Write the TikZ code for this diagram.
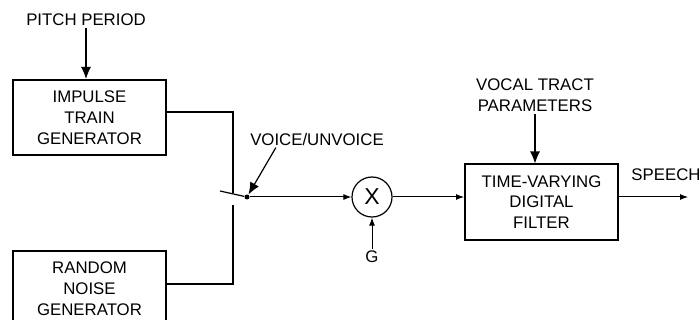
\documentclass[tikz,border=0pt]{standalone}
\usepackage{fontspec}
\setmainfont{Liberation Sans}
\usepackage{tikz}
\usetikzlibrary{arrows.meta,positioning,calc}

\begin{document}
\begin{tikzpicture}[
    every node/.style={font=\fontsize{8.4}{10.4}\selectfont},
    block/.style={rectangle, draw, line width=1pt, minimum width=76.5pt,
        minimum height=37.5pt, align=center, inner sep=1pt},
    mixer/.style={circle, draw, line width=0.6pt, minimum size=20pt, inner sep=0pt,
        font=\fontsize{11.5}{11.5}\selectfont},
    tag/.style={align=center, inner sep=1pt},
    wire/.style={line width=0.6pt},
    arrow/.style={-{Latex[length=4pt,width=3pt]}, line width=0.5pt},
    bigarrow/.style={-{Latex[length=6pt,width=5pt]}, line width=0.6pt},
    x=0.5pt, y=-0.5pt,
    ]
    \clip (0,0) rectangle (700,320);
    % Sources
    \node[block] (imp)   at (89.5,117.5) {IMPULSE\\TRAIN\\GENERATOR};
    \node[block] (noise) at (89.5,288.5) {RANDOM\\NOISE\\GENERATOR};
    \node[tag]   (pitch) at (86,20)      {PITCH PERIOD};
    % Switch
    \coordinate (swtop) at (233,193);
    \coordinate (swbot) at (233,205);
    \coordinate (blade) at (220,191);
    \node[circle, fill, inner sep=0pt, minimum size=2.5pt] (pole) at (247,197) {};
    \node[tag]   (voice) at (317,139)    {VOICE/UNVOICE};
    % Gain and filter
    \node[mixer] (mult)   at (372,197)   {X};
    \node[tag]   (gain)   at (372,257)   {G};
    \node[block] (filter) at (541.5,202) {TIME-VARYING\\DIGITAL\\FILTER};
    \node[tag]   (vocal)  at (535,95)    {VOCAL TRACT\\PARAMETERS};
    \node[tag]   (speech) at (666,175)   {SPEECH};
    \coordinate (out) at (688,197);
    % Arrows
    \draw[bigarrow] (pitch.south) -- (pitch.south |- imp.north);
    \draw[wire] ([yshift=2.75pt]imp.east) -| (swtop);
    \draw[wire] ([yshift=2.25pt]noise.east) -| (swbot);
    \draw[wire] (blade) -- (pole);
    \draw[bigarrow] ([xshift=14pt]voice.south west) -- (pole);
    \draw[arrow] (pole) -- (mult);
    \draw[arrow] (gain) -- (mult);
    \draw[arrow] (mult) -- (mult -| filter.west);
    \draw[bigarrow] (vocal) -- (vocal |- filter.north);
    \draw[arrow] (filter.east |- out) -- (out);
\end{tikzpicture}
\end{document}
